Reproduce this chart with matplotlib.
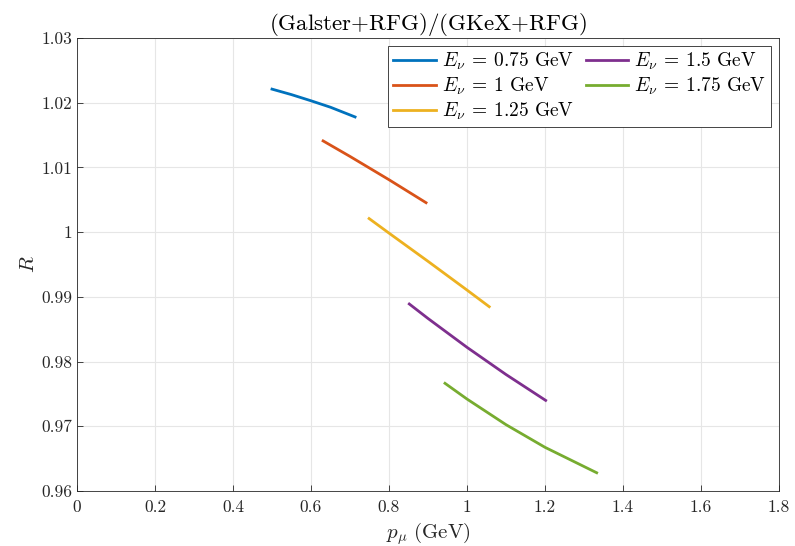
import matplotlib
matplotlib.use("Agg")
import matplotlib.pyplot as plt

plt.rcParams['font.family'] = ['cmr10', 'DejaVu Serif']
plt.rcParams['mathtext.fontset'] = 'cm'
plt.rcParams['axes.formatter.use_mathtext'] = True

# Data
p_075 = [0.500, 0.550, 0.600, 0.650, 0.713]
r_075 = [1.0221, 1.02125, 1.0203, 1.0193, 1.0178]

p_100 = [0.631, 0.700, 0.800, 0.895]
r_100 = [1.0141, 1.0117, 1.0081, 1.00455]

p_125 = [0.749, 0.800, 0.900, 1.000, 1.057]
r_125 = [1.0021, 0.99985, 0.99549, 0.99105, 0.98848]

p_150 = [0.852, 0.900, 1.000, 1.100, 1.2017]
r_150 = [0.9889, 0.98666, 0.9822, 0.97800, 0.9740]

p_175 = [0.9436, 1.000, 1.100, 1.200, 1.3325]
r_175 = [0.97664, 0.97421, 0.97025, 0.96675, 0.96282]

labels = [r'$E_\nu\:=\:0.75\ \mathrm{GeV}$', r'$E_\nu\:=\:1\ \mathrm{GeV}$',
          r'$E_\nu\:=\:1.25\ \mathrm{GeV}$', r'$E_\nu\:=\:1.5\ \mathrm{GeV}$',
          r'$E_\nu\:=\:1.75\ \mathrm{GeV}$']
colors = ['#0072BD', '#D95319', '#EDB120', '#7E2F8E', '#77AC30']
series = [(p_075, r_075), (p_100, r_100), (p_125, r_125), (p_150, r_150), (p_175, r_175)]

xticks = [0, 0.2, 0.4, 0.6, 0.8, 1, 1.2, 1.4, 1.6, 1.8]
xticklabels = ['0', '0.2', '0.4', '0.6', '0.8', '1', '1.2', '1.4', '1.6', '1.8']
yticks = [0.96, 0.97, 0.98, 0.99, 1.0, 1.01, 1.02, 1.03]
yticklabels = ['0.96', '0.97', '0.98', '0.99', '1', '1.01', '1.02', '1.03']

fig = plt.figure(figsize=(7.95, 5.46), dpi=100)
ax = fig.add_axes([77/795, 55/546, (779-77)/795, (491-38)/546])

for (x, y), c, lab in zip(series, colors, labels):
    ax.plot(x, y, color=c, lw=2, label=lab)

ax.set_xlim(0, 1.8)
ax.set_ylim(0.96, 1.03)
ax.set_xticks(xticks)
ax.set_xticklabels(xticklabels)
ax.set_yticks(yticks)
ax.set_yticklabels(yticklabels)
ax.grid(True, color='#e6e6e6', lw=0.8)
ax.set_axisbelow(True)
for s in ax.spines.values():
    s.set_color('#262626')
    s.set_linewidth(0.6)
ax.tick_params(direction='in', length=4, width=0.6, colors='#262626', labelsize=12.5,
               top=False, right=False)
ax.tick_params(axis='x', pad=6)

ax.set_xlabel(r'$p_\mu\ \mathrm{(GeV)}$', fontsize=15, color='#262626', labelpad=4)
ax.set_ylabel(r'$R$', fontsize=15, color='#262626', labelpad=2)
ax.set_title(r'$\mathrm{(Galster{+}RFG)/(GKeX{+}RFG)}$', fontsize=16.5, color='black', pad=6)

leg = ax.legend(loc='upper right', ncol=2, fontsize=14, frameon=True, fancybox=False,
                edgecolor='#262626', framealpha=1, borderpad=0.25, labelspacing=0.2,
                handlelength=2.2, handletextpad=0.3, columnspacing=0.6,
                borderaxespad=0.4)
leg.get_frame().set_linewidth(0.6)

fig.savefig('out.png', dpi=100)
